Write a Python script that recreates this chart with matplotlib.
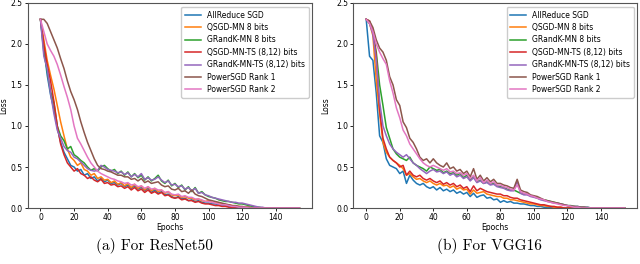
import matplotlib
matplotlib.use("Agg")
import matplotlib.pyplot as plt

# ------------------------------------------------------
# Data (every 2 epochs)
# ------------------------------------------------------
epochs = list(range(0, 155, 2))

labels = ["AllReduce SGD", "QSGD-MN 8 bits", "GRandK-MN 8 bits",
          "QSGD-MN-TS (8,12) bits", "GRandK-MN-TS (8,12) bits",
          "PowerSGD Rank 1", "PowerSGD Rank 2"]
colors = ["#1f77b4", "#ff7f0e", "#2ca02c", "#d62728", "#9467bd", "#8c564b", "#e377c2"]

# ---- ResNet50 ----
res_allreduce = [2.30, 1.95, 1.62, 1.38, 1.20, 0.98, 0.80, 0.68, 0.60, 0.52,
                 0.50, 0.45, 0.47, 0.40, 0.42, 0.36, 0.38, 0.33, 0.36, 0.32,
                 0.34, 0.30, 0.31, 0.28, 0.30, 0.26, 0.28, 0.24, 0.27, 0.23,
                 0.25, 0.21, 0.24, 0.19, 0.22, 0.18, 0.20, 0.16, 0.17, 0.14,
                 0.12, 0.14, 0.11, 0.12, 0.09, 0.10, 0.08, 0.09, 0.07, 0.06,
                 0.06, 0.05, 0.05, 0.04, 0.03, 0.03, 0.02, 0.02, 0.01, 0.01,
                 0.01, 0.01, 0.00, 0.00, 0.00, 0.00, 0.00, 0.00, 0.00, 0.00,
                 0.00, 0.00, 0.00, 0.00, 0.00, 0.00, 0.00, 0.00]
res_qsgd = [2.30, 2.05, 1.80, 1.62, 1.45, 1.25, 1.05, 0.88, 0.72, 0.62,
            0.58, 0.52, 0.55, 0.47, 0.45, 0.40, 0.42, 0.36, 0.38, 0.34,
            0.35, 0.31, 0.33, 0.29, 0.31, 0.27, 0.30, 0.25, 0.29, 0.24,
            0.27, 0.22, 0.26, 0.21, 0.24, 0.20, 0.22, 0.18, 0.20, 0.16,
            0.15, 0.16, 0.13, 0.14, 0.12, 0.12, 0.10, 0.11, 0.09, 0.08,
            0.09, 0.07, 0.07, 0.06, 0.05, 0.04, 0.04, 0.03, 0.02, 0.02,
            0.01, 0.01, 0.01, 0.00, 0.00, 0.00, 0.00, 0.00, 0.00, 0.00,
            0.00, 0.00, 0.00, 0.00, 0.00, 0.00, 0.00, 0.00]
res_grandk = [2.30, 1.90, 1.68, 1.42, 1.28, 1.00, 0.88, 0.82, 0.72, 0.75,
              0.65, 0.62, 0.58, 0.55, 0.50, 0.46, 0.48, 0.45, 0.50, 0.52,
              0.48, 0.45, 0.47, 0.42, 0.45, 0.40, 0.44, 0.38, 0.42, 0.37,
              0.40, 0.34, 0.38, 0.33, 0.36, 0.40, 0.33, 0.30, 0.34, 0.27,
              0.30, 0.25, 0.28, 0.22, 0.26, 0.20, 0.25, 0.18, 0.20, 0.16,
              0.14, 0.13, 0.12, 0.10, 0.09, 0.08, 0.08, 0.07, 0.06, 0.05,
              0.05, 0.04, 0.03, 0.02, 0.01, 0.01, 0.00, 0.00, 0.00, 0.00,
              0.00, 0.00, 0.00, 0.00, 0.00, 0.00, 0.00, 0.00]
res_qsgd_ts = [2.30, 2.00, 1.75, 1.55, 1.30, 1.00, 0.78, 0.65, 0.55, 0.50,
               0.45, 0.48, 0.42, 0.40, 0.36, 0.38, 0.34, 0.32, 0.35, 0.30,
               0.31, 0.28, 0.29, 0.26, 0.27, 0.24, 0.26, 0.22, 0.25, 0.21,
               0.23, 0.19, 0.22, 0.18, 0.20, 0.17, 0.19, 0.15, 0.16, 0.13,
               0.12, 0.13, 0.10, 0.11, 0.09, 0.09, 0.07, 0.08, 0.06, 0.05,
               0.05, 0.04, 0.03, 0.03, 0.02, 0.02, 0.01, 0.01, 0.00, 0.00,
               0.00, 0.00, 0.00, 0.00, 0.00, 0.00, 0.00, 0.00, 0.00, 0.00,
               0.00, 0.00, 0.00, 0.00, 0.00, 0.00, 0.00, 0.00]
res_grandk_ts = [2.30, 1.85, 1.70, 1.40, 1.15, 0.95, 0.85, 0.75, 0.70, 0.68,
                 0.62, 0.60, 0.56, 0.52, 0.48, 0.46, 0.45, 0.46, 0.52, 0.50,
                 0.47, 0.46, 0.45, 0.43, 0.44, 0.41, 0.43, 0.38, 0.41, 0.38,
                 0.42, 0.35, 0.37, 0.34, 0.35, 0.38, 0.34, 0.31, 0.33, 0.28,
                 0.29, 0.26, 0.27, 0.23, 0.25, 0.21, 0.24, 0.18, 0.19, 0.16,
                 0.15, 0.13, 0.12, 0.11, 0.10, 0.09, 0.08, 0.07, 0.07, 0.06,
                 0.06, 0.05, 0.04, 0.03, 0.02, 0.01, 0.01, 0.00, 0.00, 0.00,
                 0.00, 0.00, 0.00, 0.00, 0.00, 0.00, 0.00, 0.00]
res_power1 = [2.30, 2.30, 2.25, 2.15, 2.05, 1.95, 1.82, 1.70, 1.55, 1.42,
              1.32, 1.20, 1.05, 0.92, 0.80, 0.70, 0.60, 0.52, 0.48, 0.47,
              0.45, 0.44, 0.42, 0.40, 0.40, 0.38, 0.38, 0.35, 0.36, 0.33,
              0.36, 0.31, 0.33, 0.30, 0.31, 0.32, 0.28, 0.26, 0.27, 0.23,
              0.22, 0.24, 0.20, 0.21, 0.18, 0.22, 0.17, 0.15, 0.14, 0.12,
              0.10, 0.09, 0.08, 0.07, 0.06, 0.05, 0.04, 0.03, 0.03, 0.02,
              0.02, 0.01, 0.01, 0.00, 0.00, 0.00, 0.00, 0.00, 0.00, 0.00,
              0.00, 0.00, 0.00, 0.00, 0.00, 0.00, 0.00, 0.00]
res_power2 = [2.30, 2.15, 2.00, 1.92, 1.85, 1.75, 1.62, 1.48, 1.35, 1.20,
              1.00, 0.85, 0.78, 0.70, 0.62, 0.55, 0.50, 0.45, 0.42, 0.40,
              0.38, 0.36, 0.35, 0.33, 0.32, 0.30, 0.31, 0.28, 0.29, 0.26,
              0.27, 0.24, 0.26, 0.23, 0.24, 0.22, 0.22, 0.19, 0.20, 0.17,
              0.16, 0.17, 0.14, 0.15, 0.13, 0.13, 0.11, 0.11, 0.10, 0.08,
              0.08, 0.07, 0.06, 0.05, 0.04, 0.04, 0.03, 0.02, 0.02, 0.01,
              0.01, 0.01, 0.00, 0.00, 0.00, 0.00, 0.00, 0.00, 0.00, 0.00,
              0.00, 0.00, 0.00, 0.00, 0.00, 0.00, 0.00, 0.00]

# ---- VGG16 ----
vgg_allreduce = [2.30, 1.85, 1.80, 1.40, 0.88, 0.80, 0.60, 0.52, 0.50, 0.48,
                 0.42, 0.45, 0.30, 0.40, 0.34, 0.30, 0.28, 0.30, 0.26, 0.24,
                 0.26, 0.22, 0.25, 0.21, 0.23, 0.20, 0.22, 0.18, 0.20, 0.17,
                 0.19, 0.14, 0.18, 0.13, 0.15, 0.16, 0.12, 0.13, 0.10, 0.11,
                 0.07, 0.09, 0.07, 0.08, 0.06, 0.06, 0.05, 0.05, 0.04, 0.03,
                 0.03, 0.02, 0.02, 0.01, 0.01, 0.01, 0.00, 0.00, 0.00, 0.00,
                 0.00, 0.00, 0.00, 0.00, 0.00, 0.00, 0.00, 0.00, 0.00, 0.00,
                 0.00, 0.00, 0.00, 0.00, 0.00, 0.00, 0.00, 0.00]
vgg_qsgd = [2.30, 2.25, 2.10, 1.55, 1.15, 0.80, 0.68, 0.62, 0.58, 0.55,
            0.52, 0.48, 0.40, 0.42, 0.38, 0.35, 0.36, 0.33, 0.31, 0.33,
            0.30, 0.28, 0.30, 0.27, 0.28, 0.25, 0.27, 0.23, 0.25, 0.22,
            0.23, 0.17, 0.22, 0.18, 0.19, 0.20, 0.17, 0.16, 0.15, 0.14,
            0.14, 0.12, 0.12, 0.10, 0.10, 0.09, 0.08, 0.07, 0.06, 0.05,
            0.05, 0.04, 0.03, 0.03, 0.02, 0.02, 0.01, 0.01, 0.01, 0.00,
            0.00, 0.00, 0.00, 0.00, 0.00, 0.00, 0.00, 0.00, 0.00, 0.00,
            0.00, 0.00, 0.00, 0.00, 0.00, 0.00, 0.00, 0.00]
vgg_grandk = [2.30, 2.25, 2.15, 1.90, 1.50, 1.25, 0.98, 0.85, 0.72, 0.66,
              0.62, 0.60, 0.58, 0.62, 0.55, 0.52, 0.50, 0.48, 0.45, 0.50,
              0.48, 0.46, 0.47, 0.43, 0.45, 0.42, 0.43, 0.40, 0.42, 0.37,
              0.40, 0.34, 0.38, 0.32, 0.34, 0.30, 0.32, 0.29, 0.30, 0.27,
              0.26, 0.25, 0.23, 0.22, 0.22, 0.20, 0.18, 0.17, 0.17, 0.15,
              0.14, 0.12, 0.11, 0.10, 0.09, 0.08, 0.07, 0.06, 0.05, 0.04,
              0.03, 0.03, 0.02, 0.02, 0.01, 0.01, 0.01, 0.00, 0.00, 0.00,
              0.00, 0.00, 0.00, 0.00, 0.00, 0.00, 0.00, 0.00]
vgg_qsgd_ts = [2.30, 2.28, 2.15, 1.85, 1.20, 0.85, 0.72, 0.62, 0.58, 0.55,
               0.50, 0.52, 0.40, 0.45, 0.40, 0.38, 0.40, 0.36, 0.34, 0.36,
               0.33, 0.31, 0.33, 0.29, 0.31, 0.28, 0.30, 0.26, 0.28, 0.24,
               0.26, 0.20, 0.27, 0.21, 0.24, 0.22, 0.20, 0.19, 0.18, 0.17,
               0.17, 0.15, 0.15, 0.13, 0.12, 0.12, 0.10, 0.09, 0.08, 0.07,
               0.06, 0.05, 0.04, 0.04, 0.03, 0.02, 0.02, 0.01, 0.01, 0.00,
               0.00, 0.00, 0.00, 0.00, 0.00, 0.00, 0.00, 0.00, 0.00, 0.00,
               0.00, 0.00, 0.00, 0.00, 0.00, 0.00, 0.00, 0.00]
vgg_grandk_ts = [2.30, 2.25, 2.12, 1.80, 1.30, 1.00, 0.88, 0.78, 0.72, 0.68,
                 0.65, 0.62, 0.65, 0.60, 0.55, 0.52, 0.48, 0.45, 0.42, 0.45,
                 0.47, 0.44, 0.45, 0.42, 0.44, 0.40, 0.42, 0.38, 0.40, 0.36,
                 0.38, 0.33, 0.37, 0.31, 0.33, 0.30, 0.31, 0.28, 0.29, 0.26,
                 0.25, 0.24, 0.22, 0.21, 0.21, 0.33, 0.18, 0.16, 0.16, 0.14,
                 0.13, 0.12, 0.10, 0.09, 0.08, 0.07, 0.06, 0.06, 0.05, 0.04,
                 0.03, 0.02, 0.02, 0.02, 0.01, 0.01, 0.01, 0.00, 0.00, 0.00,
                 0.00, 0.00, 0.00, 0.00, 0.00, 0.00, 0.00, 0.00]
vgg_power1 = [2.30, 2.28, 2.20, 2.05, 1.95, 1.90, 1.80, 1.60, 1.50, 1.32,
              1.25, 1.05, 0.98, 0.85, 0.80, 0.72, 0.62, 0.58, 0.60, 0.55,
              0.60, 0.55, 0.52, 0.50, 0.55, 0.48, 0.50, 0.45, 0.47, 0.42,
              0.45, 0.38, 0.48, 0.35, 0.40, 0.33, 0.37, 0.32, 0.35, 0.30,
              0.30, 0.28, 0.27, 0.25, 0.24, 0.35, 0.22, 0.20, 0.19, 0.16,
              0.15, 0.14, 0.12, 0.10, 0.09, 0.08, 0.07, 0.06, 0.05, 0.04,
              0.03, 0.02, 0.02, 0.01, 0.01, 0.01, 0.00, 0.00, 0.00, 0.00,
              0.00, 0.00, 0.00, 0.00, 0.00, 0.00, 0.00, 0.00]
vgg_power2 = [2.30, 2.25, 2.15, 2.00, 1.90, 1.82, 1.75, 1.55, 1.40, 1.22,
              1.10, 0.95, 0.88, 0.78, 0.72, 0.66, 0.60, 0.55, 0.52, 0.50,
              0.52, 0.50, 0.48, 0.46, 0.48, 0.44, 0.45, 0.42, 0.43, 0.40,
              0.42, 0.36, 0.40, 0.33, 0.37, 0.31, 0.34, 0.30, 0.32, 0.28,
              0.28, 0.26, 0.25, 0.23, 0.22, 0.28, 0.20, 0.18, 0.17, 0.15,
              0.14, 0.12, 0.11, 0.10, 0.08, 0.07, 0.06, 0.05, 0.04, 0.03,
              0.03, 0.02, 0.01, 0.01, 0.00, 0.00, 0.00, 0.00, 0.00, 0.00,
              0.00, 0.00, 0.00, 0.00, 0.00, 0.00, 0.00, 0.00]

resnet_series = [res_allreduce, res_qsgd, res_grandk, res_qsgd_ts,
                 res_grandk_ts, res_power1, res_power2]
vgg_series = [vgg_allreduce, vgg_qsgd, vgg_grandk, vgg_qsgd_ts,
              vgg_grandk_ts, vgg_power1, vgg_power2]

captions = ["(a) For ResNet50", "(b) For VGG16"]


def draw_panel(ax, series, ylab_x):
    for vals, lab, col in zip(series, labels, colors):
        ax.plot(epochs, vals, color=col, lw=1.1, label=lab)
    ax.set_ylim(0, 2.5)
    ax.set_xticks([0, 20, 40, 60, 80, 100, 120, 140])
    ax.set_yticks([0.0, 0.5, 1.0, 1.5, 2.0, 2.5])
    ax.tick_params(labelsize=5.5, length=2, width=0.6, pad=1.5)
    ax.set_xlabel("Epochs", fontsize=5.5, labelpad=1)
    ax.set_ylabel("Loss", fontsize=5.5)
    ax.yaxis.set_label_coords(ylab_x, 0.5)
    for sp in ax.spines.values():
        sp.set_linewidth(0.8)
        sp.set_color("#555555")
    ax.legend(loc="upper right", fontsize=5.5, handlelength=2.0,
              labelspacing=0.45, borderpad=0.5, framealpha=1.0,
              edgecolor="#cccccc", fancybox=True)


fig = plt.figure(figsize=(6.4, 2.64), dpi=100)
ax1 = fig.add_axes([0.043, 0.212, 0.445, 0.777])
ax2 = fig.add_axes([0.552, 0.212, 0.444, 0.777])
draw_panel(ax1, resnet_series, -0.068)
draw_panel(ax2, vgg_series, -0.08)

fig.text(0.242, 0.068, captions[0], ha="center", va="center",
         fontsize=11, family="cmr10")
fig.text(0.764, 0.068, captions[1], ha="center", va="center",
         fontsize=11, family="cmr10")

fig.savefig("out.png", dpi=100)
